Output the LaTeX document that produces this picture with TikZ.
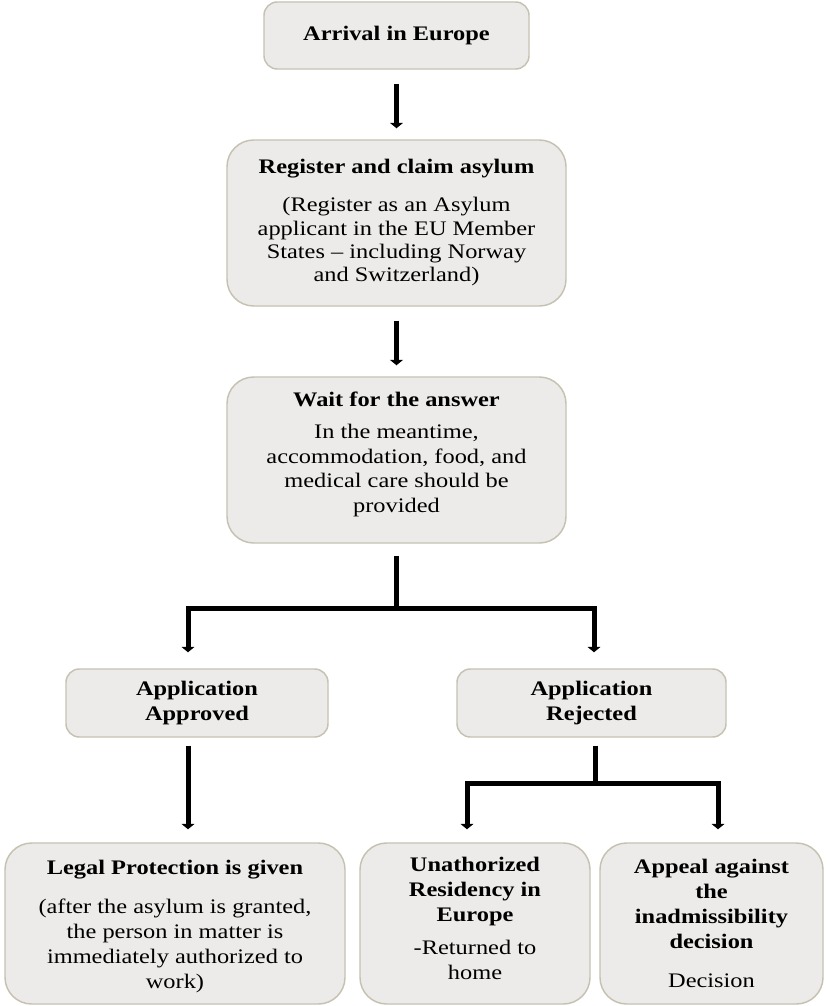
\documentclass[tikz,border=0pt]{standalone}
\usepackage{fontspec}
\setmainfont{Liberation Serif}[FakeStretch=1.18]
\usetikzlibrary{arrows.meta,calc}
\definecolor{boxfill}{RGB}{236,235,233}
\definecolor{boxline}{RGB}{198,194,178}
\tikzset{
  sbox/.style={draw=boxline, fill=boxfill, line width=1.1pt, rounded corners=10pt, inner sep=0pt},
  bbox/.style={sbox, rounded corners=20pt},
  txt/.style={align=center, inner sep=0pt, font=\fontsize{15.5}{18.4}\selectfont},
  txtb/.style={txt, font=\fontsize{15.5}{18.8}\selectfont},
  conn/.style={line width=3.75pt, black},
  arr/.style={conn, -{Triangle[width=9.5pt,length=4pt]}}
}
\begin{document}
\begin{tikzpicture}[x=0.75pt,y=-0.75pt]
\useasboundingbox[fill=white] (0,0) rectangle (827,1006);

% boxes
\node[sbox, minimum width=198.75pt, minimum height=50.25pt] (b1) at (396.5,35.5) {};
\node[bbox, minimum width=254.25pt, minimum height=124.5pt] (b2) at (396.5,223) {};
\node[bbox, minimum width=254.25pt, minimum height=124.5pt] (b3) at (396.5,460) {};
\node[sbox, minimum width=196.5pt, minimum height=51pt] (b4) at (197,703) {};
\node[sbox, minimum width=201.75pt, minimum height=51pt] (b5) at (591.5,703) {};
\node[bbox, minimum width=255pt, minimum height=120.75pt] (b6) at (175,923.5) {};
\node[bbox, minimum width=172.5pt, minimum height=120.75pt] (b7) at (475,923.5) {};
\node[bbox, minimum width=167.25pt, minimum height=120.75pt] (b8) at (711.5,923.5) {};

% texts
\node[txt] (t1) at (b1.center) {\textbf{Arrival in Europe}};
\node[txt, font=\fontsize{15.5}{17.5}\selectfont] (t2) at (b2.center)
 {\textbf{Register and claim asylum}\\[11pt](Register as an Asylum\\applicant in the EU Member\\States – including Norway\\and Switzerland)};
\node[txt] (t3) at ($(b3.center)+(0,-6)$)
 {\textbf{Wait for the answer}\\[6pt]In the meantime,\\accommodation, food, and\\medical care should be\\provided};
\node[txt] (t4) at (b4.center) {\textbf{Application}\\\textbf{Approved}};
\node[txt] (t5) at (b5.center) {\textbf{Application}\\\textbf{Rejected}};
\node[txtb] (t6) at ($(b6.center)+(0,3)$)
 {\textbf{Legal Protection is given}\\[10pt](after the asylum is granted,\\the person in matter is\\immediately authorized to\\work)};
\node[txtb] (t7) at ($(b7.center)+(0,-5)$)
 {\textbf{Unathorized}\\\textbf{Residency in}\\\textbf{Europe}\\[5.5pt]-Returned to\\home};
\node[txtb] (t8) at (b8.center)
 {\textbf{Appeal against}\\\textbf{the}\\\textbf{inadmissibility}\\\textbf{decision}\\[10pt]Decision};

% connectors
\draw[arr] ($(b1.south)+(0,14)$) -- ($(b2.north)+(0,-11)$);
\draw[arr] ($(b2.south)+(0,14)$) -- ($(b3.north)+(0,-11)$);

\coordinate (j1) at ($(b3.south)+(0,65)$);
\draw[conn] ($(b3.south)+(0,12)$) -- (j1);
\draw[arr] (j1) -| ($(b4.north)+(-9,-16)$);
\draw[arr] (j1) -| ($(b5.north)+(2.5,-16)$);

\draw[arr] ($(b4.south)+(-9,8)$) -- ($(b6.north)+(13,-13)$);

\coordinate (j2) at ($(b5.south)+(3.5,46)$);
\draw[conn] ($(b5.south)+(3.5,8)$) -- (j2);
\draw[arr] (j2) -| ($(b7.north)+(-8,-13)$);
\draw[arr] (j2) -| ($(b8.north)+(6.5,-13)$);
\end{tikzpicture}
\end{document}
